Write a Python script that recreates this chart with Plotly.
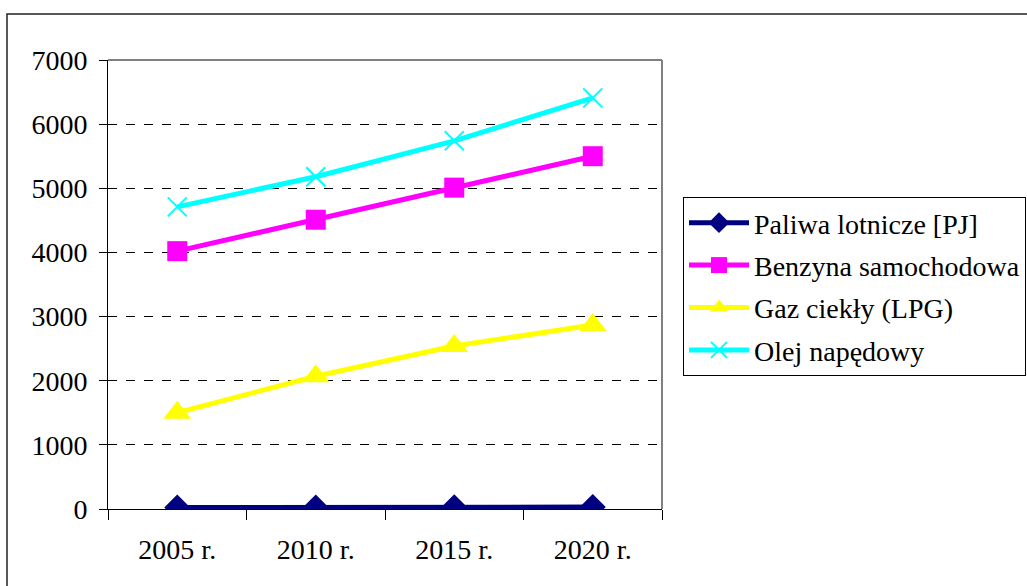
import plotly.graph_objects as go

# Fuel demand forecast by year
years = ["2005 r.", "2010 r.", "2015 r.", "2020 r."]
paliwa_lotnicze = [22, 24, 27, 30]
benzyna = [4020, 4510, 5010, 5500]
gaz_lpg = [1500, 2070, 2540, 2870]
olej = [4710, 5180, 5740, 6410]

series = [
    ("Paliwa lotnicze [PJ]", paliwa_lotnicze, "#000080", "diamond", 20, None),
    ("Benzyna samochodowa", benzyna, "#FF00FF", "square", 20, None),
    ("Gaz ciekły (LPG)", gaz_lpg, "#FFFF00", "triangle-up", 24, None),
    ("Olej napędowy", olej, "#00FFFF", "x-thin", 19, 2),
]

W, H = 1027, 586
L, R, T, B = 108, 662, 60, 509  # plot area in pixels


def px_x(p):
    return (p - L) / (R - L)


def px_y(p):
    return (B - p) / (B - T)


fig = go.Figure()
for i, (name, vals, color, sym, size, mlw) in enumerate(series):
    marker = dict(symbol=sym, size=size, color=color)
    if mlw:
        marker.update(line=dict(color=color, width=mlw))
    fig.add_trace(go.Scatter(
        x=years, y=vals, name=name, mode="lines+markers",
        line=dict(color=color, width=5),
        marker=marker,
        legendgroup=f"g{i}",
    ))

font = dict(family="Liberation Serif", size=28, color="black")

fig.update_layout(
    width=W, height=H,
    margin=dict(l=L, r=W - R, t=T, b=H - B, pad=0, autoexpand=False),
    paper_bgcolor="white", plot_bgcolor="white",
    font=font,
    showlegend=True,
    legend=dict(
        x=px_x(683), y=px_y(197), xanchor="left", yanchor="top",
        bordercolor="black", borderwidth=1, bgcolor="white",
        font=font, itemwidth=60, tracegroupgap=3, traceorder="grouped",
    ),
    xaxis=dict(
        type="category", range=[-0.5, 3.5], showline=True, linecolor="black",
        linewidth=1, ticks="outside", tickson="boundaries", ticklen=10,
        tickcolor="black", showgrid=False, ticklabelstandoff=15,
        tickfont=font,
    ),
    yaxis=dict(
        range=[0, 7000], tickvals=[0, 1000, 2000, 3000, 4000, 5000, 6000, 7000],
        showline=True, linecolor="black", linewidth=1,
        ticks="outside", ticklen=8, tickcolor="black",
        showgrid=True, gridcolor="black", gridwidth=1, griddash="dash",
        zeroline=False, ticklabelstandoff=6, tickfont=font,
    ),
    shapes=[
        # gray top and right edges of the plot area
        dict(type="line", xref="paper", yref="paper", x0=0, x1=1, y0=1, y1=1,
             line=dict(color="#808080", width=2), layer="above"),
        dict(type="line", xref="paper", yref="paper", x0=1, x1=1, y0=0, y1=1,
             line=dict(color="#808080", width=2), layer="above"),
        # outer chart frame
        dict(type="rect", xref="paper", yref="paper",
             x0=px_x(7), x1=px_x(1040), y0=px_y(600), y1=px_y(14),
             line=dict(color="#222222", width=1.5), layer="below"),
    ],
)

fig.write_html("out.html")
